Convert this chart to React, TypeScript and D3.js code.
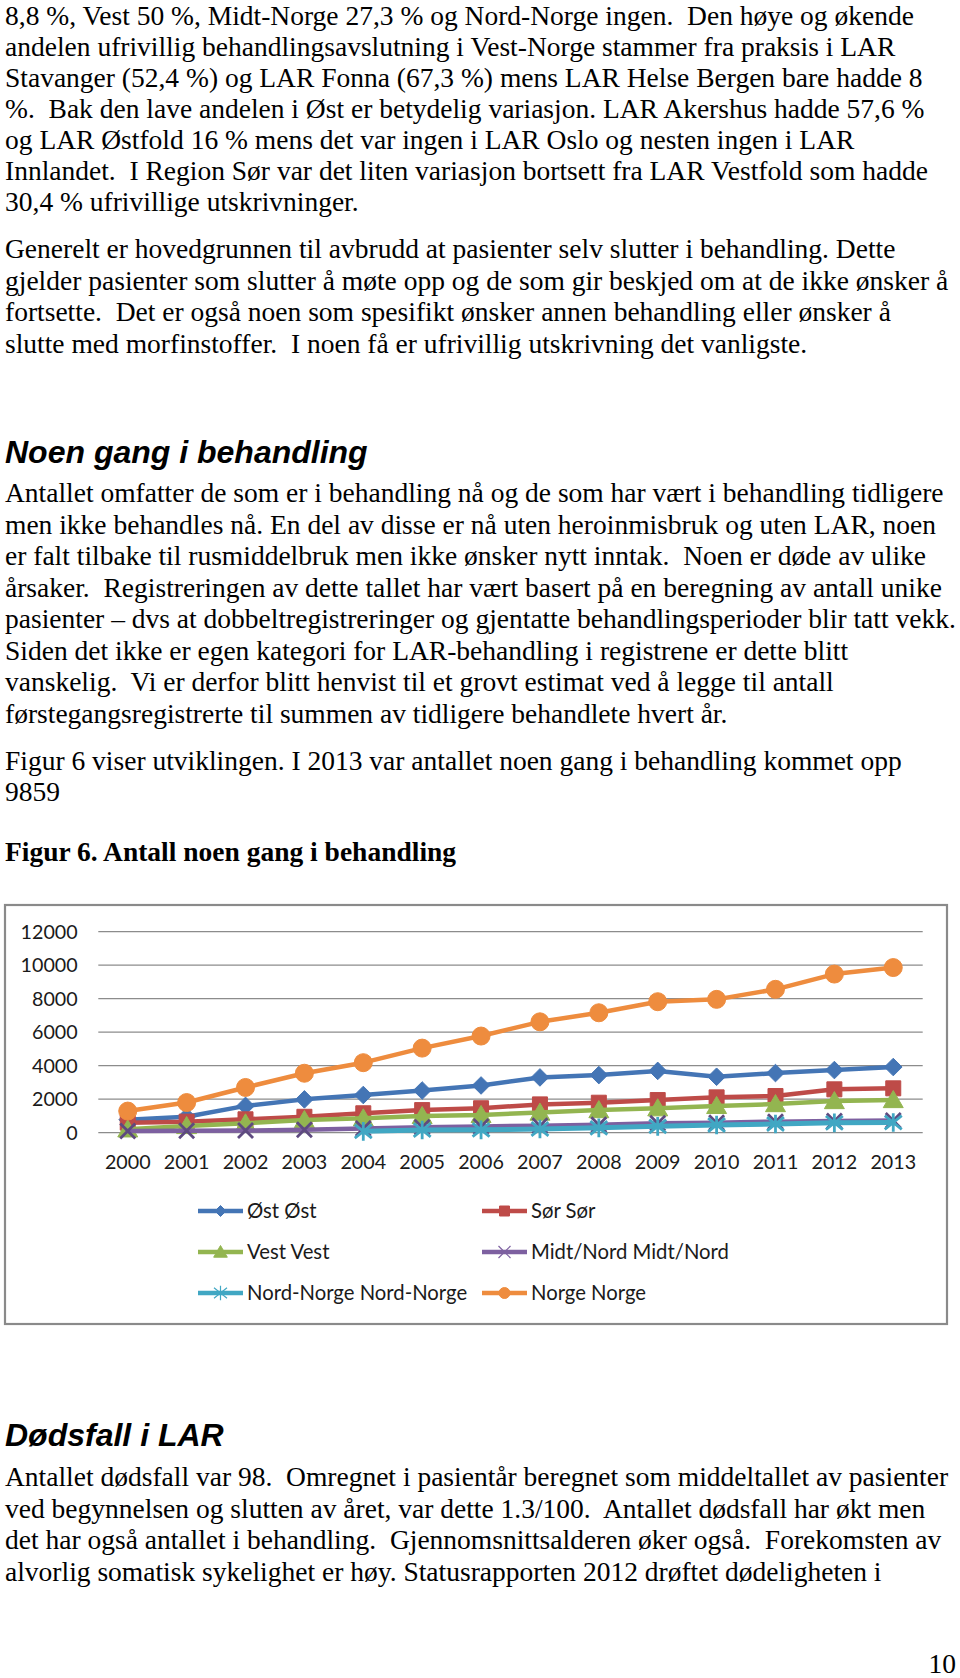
import React from "react";
import * as d3 from "d3";

// ---------- text content ----------
const para1 = [
  "8,8 %, Vest 50 %, Midt-Norge 27,3 % og Nord-Norge ingen.  Den høye og økende",
  "andelen ufrivillig behandlingsavslutning i Vest-Norge stammer fra praksis i LAR",
  "Stavanger (52,4 %) og LAR Fonna (67,3 %) mens LAR Helse Bergen bare hadde 8",
  "%.  Bak den lave andelen i Øst er betydelig variasjon. LAR Akershus hadde 57,6 %",
  "og LAR Østfold 16 % mens det var ingen i LAR Oslo og nesten ingen i LAR",
  "Innlandet.  I Region Sør var det liten variasjon bortsett fra LAR Vestfold som hadde",
  "30,4 % ufrivillige utskrivninger.",
];
const para2 = [
  "Generelt er hovedgrunnen til avbrudd at pasienter selv slutter i behandling. Dette",
  "gjelder pasienter som slutter å møte opp og de som gir beskjed om at de ikke ønsker å",
  "fortsette.  Det er også noen som spesifikt ønsker annen behandling eller ønsker å",
  "slutte med morfinstoffer.  I noen få er ufrivillig utskrivning det vanligste.",
];
const heading1 = "Noen gang i behandling";
const para3 = [
  "Antallet omfatter de som er i behandling nå og de som har vært i behandling tidligere",
  "men ikke behandles nå. En del av disse er nå uten heroinmisbruk og uten LAR, noen",
  "er falt tilbake til rusmiddelbruk men ikke ønsker nytt inntak.  Noen er døde av ulike",
  "årsaker.  Registreringen av dette tallet har vært basert på en beregning av antall unike",
  "pasienter – dvs at dobbeltregistreringer og gjentatte behandlingsperioder blir tatt vekk.",
  "Siden det ikke er egen kategori for LAR-behandling i registrene er dette blitt",
  "vanskelig.  Vi er derfor blitt henvist til et grovt estimat ved å legge til antall",
  "førstegangsregistrerte til summen av tidligere behandlete hvert år.",
];
const para4 = [
  "Figur 6 viser utviklingen. I 2013 var antallet noen gang i behandling kommet opp",
  "9859",
];
const caption = "Figur 6. Antall noen gang i behandling";
const heading2 = "Dødsfall i LAR";
const para5 = [
  "Antallet dødsfall var 98.  Omregnet i pasientår beregnet som middeltallet av pasienter",
  "ved begynnelsen og slutten av året, var dette 1.3/100.  Antallet dødsfall har økt men",
  "det har også antallet i behandling.  Gjennomsnittsalderen øker også.  Forekomsten av",
  "alvorlig somatisk sykelighet er høy. Statusrapporten 2012 drøftet dødeligheten i",
];
const pageNumber = "10";

// ---------- chart data ----------
const years = ["2000", "2001", "2002", "2003", "2004", "2005", "2006", "2007", "2008", "2009", "2010", "2011", "2012", "2013"];
const yTicks = [0, 2000, 4000, 6000, 8000, 10000, 12000];

const ost = [780, 950, 1600, 1990, 2250, 2520, 2820, 3300, 3440, 3690, 3340, 3560, 3740, 3920];
const sor = [600, 660, 800, 950, 1160, 1350, 1460, 1690, 1790, 1950, 2110, 2190, 2590, 2650];
const vest = [200, 400, 560, 760, 860, 1000, 1060, 1200, 1350, 1460, 1600, 1710, 1890, 1950];
const midtNord = [100, 110, 130, 170, 250, 330, 370, 420, 480, 560, 600, 660, 700, 730];
const nordNorge: (number | null)[] = [null, null, null, null, 80, 160, 170, 220, 290, 380, 460, 520, 590, 610];
const norge = [1290, 1800, 2700, 3550, 4180, 5050, 5770, 6620, 7160, 7820, 7960, 8560, 9470, 9859];

const seriesNames = ["Øst Øst", "Sør Sør", "Vest Vest", "Midt/Nord Midt/Nord", "Nord-Norge Nord-Norge", "Norge Norge"];
const seriesValues = [ost, sor, vest, midtNord, nordNorge, norge];
const seriesColors = ["#4475B5", "#BE4B48", "#93B550", "#7D60A0", "#41A7C3", "#EE8C3E"];
const seriesMarkers = ["diamond", "square", "triangle", "x", "asterisk", "circle"];

type Marker = string;

function markerPath(kind: Marker, s: number): string {
  switch (kind) {
    case "diamond":
      return `M0,${-s}L${s},0L0,${s}L${-s},0Z`;
    case "square":
      return d3.symbol(d3.symbolSquare, (s * 2) ** 2)() as string;
    case "triangle":
      return `M0,${-s}L${s * 1.05},${s * 0.8}L${-s * 1.05},${s * 0.8}Z`;
    case "x":
      return `M${-s},${-s}L${s},${s}M${-s},${s}L${s},${-s}`;
    case "asterisk":
      return `M${-s},${-s * 0.8}L${s},${s * 0.8}M${-s},${s * 0.8}L${s},${-s * 0.8}M0,${-s * 1.1}L0,${s * 1.1}`;
    case "circle":
      return d3.symbol(d3.symbolCircle, Math.PI * s * s)() as string;
  }
  return "";
}

const isStroke = (k: Marker) => k === "x" || k === "asterisk";

const SERIF = "'Liberation Serif', 'Times New Roman', serif";
const SANS_HEAD = "'Liberation Sans', Arial, sans-serif";
const CHART_FONT = "Lato, 'Open Sans', sans-serif";

export default function App() {
  const W = 960;
  const H = 1678;
  const fs = 27.5;
  const step = 31.5;
  const tx = 5;

  const block = (lines: string[], y0: number, key: string, st: number = step) =>
    lines.map((l, i) => (
      <text key={key + i} x={tx} y={y0 + i * st} style={{ whiteSpace: "pre" }}>
        {l}
      </text>
    ));

  // chart geometry
  const plotLeft = 98.3;
  const plotRight = 922.7;
  const y = d3.scaleLinear().domain([0, 12000]).range([1132.7, 931.7]);
  const x = d3.scaleBand<string>().domain(years).range([plotLeft, plotRight]);
  const cx = (yr: string) => (x(yr) as number) + x.bandwidth() / 2;

  const line = d3
    .line<number | null>()
    .defined((d) => d !== null)
    .x((_, i) => cx(years[i]))
    .y((d) => y(d as number));

  const legendRows = [1211, 1252, 1293];
  const legendCols = [198, 482];

  const markerSize: Record<string, number> = { diamond: 8.8, square: 7.5, triangle: 9.5, x: 7.5, asterisk: 8.5, circle: 9 };
  const legendMarkerSize: Record<string, number> = { diamond: 5.5, square: 5, triangle: 6.5, x: 6, asterisk: 6.5, circle: 5.5 };

  return (
    <svg
      width={W}
      height={H}
      viewBox={`0 0 ${W} ${H}`}
      style={{ position: "absolute", left: 0, top: 0, background: "#fff" }}
    >
      <rect x={0} y={0} width={W} height={H} fill="#fff" />
      <g fontFamily={SERIF} fontSize={fs} fill="#000">
        {block(para1, 24.6, "p1", 31.1)}
        {block(para2, 258, "p2")}
        {block(para3, 502, "p3")}
        {block(para4, 769.5, "p4")}
        <text x={tx} y={861} fontWeight="bold">
          {caption}
        </text>
        {block(para5, 1486, "p5")}
        <text x={956} y={1673} textAnchor="end">
          {pageNumber}
        </text>
      </g>
      <g fontFamily={SANS_HEAD} fontSize={32} fontWeight="bold" fontStyle="italic" fill="#000">
        <text x={tx} y={463}>
          {heading1}
        </text>
        <text x={tx} y={1446}>
          {heading2}
        </text>
      </g>

      {/* chart */}
      <rect x={5} y={905} width={942} height={419} fill="#fff" stroke="#8a8a8a" strokeWidth={2.2} />
      <g>
        {yTicks.map((t) => (
          <line key={"g" + t} x1={plotLeft} x2={plotRight} y1={y(t)} y2={y(t)} stroke="#8c8c8c" strokeWidth={1.3} />
        ))}
      </g>
      <g fontFamily={CHART_FONT} fontSize={19.7} fill="#1a1a1a">
        {yTicks.map((t) => (
          <text key={"yt" + t} x={77.7} y={y(t)} dy="0.36em" textAnchor="end">
            {t}
          </text>
        ))}
        {years.map((yr) => (
          <text key={"xt" + yr} x={cx(yr)} y={1169} textAnchor="middle">
            {yr}
          </text>
        ))}
      </g>
      {seriesValues.map((vals, si) => {
        const color = seriesColors[si];
        const mk = seriesMarkers[si];
        const size = markerSize[mk];
        return (
          <g key={"s" + si}>
            <path
              d={line(vals) as string}
              fill="none"
              stroke={color}
              strokeWidth={mk === "asterisk" ? 5 : 4.5}
              strokeLinejoin="round"
              strokeLinecap="round"
            />
            {vals.map((v, i) =>
              v === null ? null : (
                <path
                  key={i}
                  transform={`translate(${cx(years[i])},${y(v)})`}
                  d={markerPath(mk, size)}
                  fill={isStroke(mk) ? "none" : color}
                  stroke={mk === "x" ? "#5E4A80" : color}
                  strokeWidth={isStroke(mk) ? 2.8 : 1}
                />
              )
            )}
          </g>
        );
      })}
      {/* legend */}
      <g fontFamily={CHART_FONT} fontSize={20.3} fill="#1a1a1a">
        {seriesNames.map((name, i) => {
          const col = i % 2;
          const row = Math.floor(i / 2);
          const lx = legendCols[col];
          const ly = legendRows[row];
          const color = seriesColors[i];
          const mk = seriesMarkers[i];
          const size = legendMarkerSize[mk];
          return (
            <g key={"lg" + i}>
              <line x1={lx} x2={lx + 45} y1={ly} y2={ly} stroke={color} strokeWidth={4.5} />
              <path
                transform={`translate(${lx + 22.5},${ly})`}
                d={markerPath(mk, size)}
                fill={isStroke(mk) ? "none" : color}
                stroke={color}
                strokeWidth={isStroke(mk) ? 1.2 : 1}
              />
              <text x={lx + 49} y={ly} dy="0.36em">
                {name}
              </text>
            </g>
          );
        })}
      </g>
    </svg>
  );
}
